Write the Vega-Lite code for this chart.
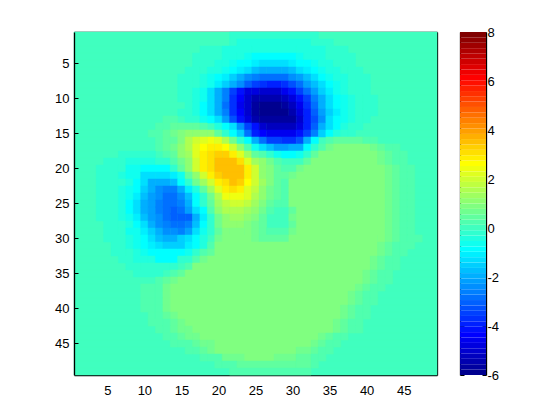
{"$schema":"https://vega.github.io/schema/vega-lite/v6.json","padding":{"left":54,"top":26,"right":0,"bottom":0},"background":"white","spacing":19,"config":{"view":{"stroke":null},"axis":{"labelFont":"Liberation Sans","labelFontSize":13,"labelColor":"black","tickColor":"black","domainColor":"black","tickSize":-4,"labelPadding":9,"title":null,"grid":false,"domainWidth":1.3,"tickWidth":1}},"hconcat":[{"width":363,"height":343,"layer":[{"data":{"values":[
{"x":0.5,"x2":49.5,"y":1,"v":0},{"x":0.5,"x2":49.5,"y":2,"v":0},{"x":0.5,"x2":49.5,"y":3,"v":0},{"x":0.5,"x2":49.5,"y":4,"v":0},{"x":0.5,"x2":49.5,"y":5,"v":0},{"x":0.5,"x2":49.5,"y":6,"v":0},{"x":0.5,"x2":49.5,"y":7,"v":0},{"x":0.5,"x2":49.5,"y":8,"v":0},{"x":0.5,"x2":49.5,"y":9,"v":0},{"x":0.5,"x2":49.5,"y":10,"v":0},{"x":0.5,"x2":49.5,"y":11,"v":0},{"x":0.5,"x2":49.5,"y":12,"v":0},{"x":0.5,"x2":49.5,"y":13,"v":0},{"x":0.5,"x2":49.5,"y":14,"v":0},{"x":0.5,"x2":49.5,"y":15,"v":0},{"x":0.5,"x2":49.5,"y":16,"v":0},{"x":0.5,"x2":49.5,"y":17,"v":0},{"x":0.5,"x2":49.5,"y":18,"v":0},{"x":0.5,"x2":49.5,"y":19,"v":0},{"x":0.5,"x2":49.5,"y":20,"v":0},{"x":0.5,"x2":49.5,"y":21,"v":0},{"x":0.5,"x2":49.5,"y":22,"v":0},{"x":0.5,"x2":49.5,"y":23,"v":0},{"x":0.5,"x2":49.5,"y":24,"v":0},{"x":0.5,"x2":49.5,"y":25,"v":0},{"x":0.5,"x2":49.5,"y":26,"v":0},{"x":0.5,"x2":49.5,"y":27,"v":0},{"x":0.5,"x2":49.5,"y":28,"v":0},{"x":0.5,"x2":49.5,"y":29,"v":0},{"x":0.5,"x2":49.5,"y":30,"v":0},{"x":0.5,"x2":49.5,"y":31,"v":0},{"x":0.5,"x2":49.5,"y":32,"v":0},{"x":0.5,"x2":49.5,"y":33,"v":0},{"x":0.5,"x2":49.5,"y":34,"v":0},{"x":0.5,"x2":49.5,"y":35,"v":0},{"x":0.5,"x2":49.5,"y":36,"v":0},{"x":0.5,"x2":49.5,"y":37,"v":0},{"x":0.5,"x2":49.5,"y":38,"v":0},{"x":0.5,"x2":49.5,"y":39,"v":0},{"x":0.5,"x2":49.5,"y":40,"v":0},{"x":0.5,"x2":49.5,"y":41,"v":0},{"x":0.5,"x2":49.5,"y":42,"v":0},{"x":0.5,"x2":49.5,"y":43,"v":0},{"x":0.5,"x2":49.5,"y":44,"v":0},{"x":0.5,"x2":49.5,"y":45,"v":0},{"x":0.5,"x2":49.5,"y":46,"v":0},{"x":0.5,"x2":49.5,"y":47,"v":0},{"x":0.5,"x2":49.5,"y":48,"v":0},{"x":0.5,"x2":49.5,"y":49,"v":0},
{"x":21.5,"x2":33.5,"y":1,"v":-0.2},
{"x":21.5,"x2":22.5,"y":2,"v":-0.2},{"x":22.5,"x2":32.5,"y":2,"v":-0.35},{"x":32.5,"x2":35.5,"y":2,"v":-0.2},
{"x":17.5,"x2":20.5,"y":3,"v":-0.15},{"x":20.5,"x2":24.5,"y":3,"v":-0.35},{"x":24.5,"x2":30.5,"y":3,"v":-0.5},{"x":30.5,"x2":34.5,"y":3,"v":-0.35},{"x":34.5,"x2":37.5,"y":3,"v":-0.15},
{"x":16.5,"x2":20.5,"y":4,"v":-0.15},{"x":20.5,"x2":22.5,"y":4,"v":-0.35},{"x":22.5,"x2":23.5,"y":4,"v":-0.5},{"x":23.5,"x2":24.5,"y":4,"v":-0.6},{"x":24.5,"x2":30.5,"y":4,"v":-0.8},{"x":30.5,"x2":31.5,"y":4,"v":-0.6},{"x":31.5,"x2":32.5,"y":4,"v":-0.5},{"x":32.5,"x2":34.5,"y":4,"v":-0.35},{"x":34.5,"x2":38.5,"y":4,"v":-0.15},
{"x":16.5,"x2":19.5,"y":5,"v":-0.2},{"x":19.5,"x2":20.5,"y":5,"v":-0.35},{"x":20.5,"x2":21.5,"y":5,"v":-0.5},{"x":21.5,"x2":22.5,"y":5,"v":-0.65},{"x":22.5,"x2":23.5,"y":5,"v":-0.8},{"x":23.5,"x2":24.5,"y":5,"v":-0.95},{"x":24.5,"x2":25.5,"y":5,"v":-1.1},{"x":25.5,"x2":29.5,"y":5,"v":-1.25},{"x":29.5,"x2":30.5,"y":5,"v":-1.1},{"x":30.5,"x2":31.5,"y":5,"v":-0.95},{"x":31.5,"x2":32.5,"y":5,"v":-0.8},{"x":32.5,"x2":33.5,"y":5,"v":-0.65},{"x":33.5,"x2":34.5,"y":5,"v":-0.5},{"x":34.5,"x2":35.5,"y":5,"v":-0.35},{"x":35.5,"x2":38.5,"y":5,"v":-0.2},
{"x":15.5,"x2":17.5,"y":6,"v":-0.15},{"x":17.5,"x2":18.5,"y":6,"v":-0.25},{"x":18.5,"x2":19.5,"y":6,"v":-0.35},{"x":19.5,"x2":20.5,"y":6,"v":-0.5},{"x":20.5,"x2":21.5,"y":6,"v":-0.7},{"x":21.5,"x2":22.5,"y":6,"v":-0.9},{"x":22.5,"x2":23.5,"y":6,"v":-1.15},{"x":23.5,"x2":24.5,"y":6,"v":-1.4},{"x":24.5,"x2":25.5,"y":6,"v":-1.65},{"x":25.5,"x2":26.5,"y":6,"v":-1.85},{"x":26.5,"x2":28.5,"y":6,"v":-2},{"x":28.5,"x2":29.5,"y":6,"v":-1.85},{"x":29.5,"x2":30.5,"y":6,"v":-1.65},{"x":30.5,"x2":31.5,"y":6,"v":-1.4},{"x":31.5,"x2":32.5,"y":6,"v":-1.15},{"x":32.5,"x2":33.5,"y":6,"v":-0.9},{"x":33.5,"x2":34.5,"y":6,"v":-0.7},{"x":34.5,"x2":35.5,"y":6,"v":-0.5},{"x":35.5,"x2":36.5,"y":6,"v":-0.35},{"x":36.5,"x2":37.5,"y":6,"v":-0.25},{"x":37.5,"x2":39.5,"y":6,"v":-0.15},
{"x":14.5,"x2":16.5,"y":7,"v":-0.12},{"x":16.5,"x2":17.5,"y":7,"v":-0.22},{"x":17.5,"x2":18.5,"y":7,"v":-0.33},{"x":18.5,"x2":19.5,"y":7,"v":-0.55},{"x":19.5,"x2":20.5,"y":7,"v":-0.8},{"x":20.5,"x2":21.5,"y":7,"v":-1.1},{"x":21.5,"x2":22.5,"y":7,"v":-1.45},{"x":22.5,"x2":23.5,"y":7,"v":-1.9},{"x":23.5,"x2":24.5,"y":7,"v":-2.3},{"x":24.5,"x2":25.5,"y":7,"v":-2.6},{"x":25.5,"x2":29.5,"y":7,"v":-2.9},{"x":29.5,"x2":30.5,"y":7,"v":-2.45},{"x":30.5,"x2":31.5,"y":7,"v":-2.1},{"x":31.5,"x2":32.5,"y":7,"v":-1.65},{"x":32.5,"x2":33.5,"y":7,"v":-1.25},{"x":33.5,"x2":34.5,"y":7,"v":-0.95},{"x":34.5,"x2":35.5,"y":7,"v":-0.7},{"x":35.5,"x2":36.5,"y":7,"v":-0.5},{"x":36.5,"x2":37.5,"y":7,"v":-0.33},{"x":37.5,"x2":38.5,"y":7,"v":-0.22},{"x":38.5,"x2":40.5,"y":7,"v":-0.12},
{"x":14.5,"x2":16.5,"y":8,"v":-0.14},{"x":16.5,"x2":17.5,"y":8,"v":-0.27},{"x":17.5,"x2":18.5,"y":8,"v":-0.5},{"x":18.5,"x2":19.5,"y":8,"v":-0.75},{"x":19.5,"x2":20.5,"y":8,"v":-1.05},{"x":20.5,"x2":21.5,"y":8,"v":-1.45},{"x":21.5,"x2":22.5,"y":8,"v":-1.95},{"x":22.5,"x2":23.5,"y":8,"v":-2.5},{"x":23.5,"x2":24.5,"y":8,"v":-3},{"x":24.5,"x2":25.5,"y":8,"v":-3.5},{"x":25.5,"x2":26.5,"y":8,"v":-3.8},{"x":26.5,"x2":28.5,"y":8,"v":-3.95},{"x":28.5,"x2":29.5,"y":8,"v":-3.65},{"x":29.5,"x2":30.5,"y":8,"v":-3.3},{"x":30.5,"x2":31.5,"y":8,"v":-2.75},{"x":31.5,"x2":32.5,"y":8,"v":-2.2},{"x":32.5,"x2":33.5,"y":8,"v":-1.7},{"x":33.5,"x2":34.5,"y":8,"v":-1.2},{"x":34.5,"x2":35.5,"y":8,"v":-0.9},{"x":35.5,"x2":36.5,"y":8,"v":-0.63},{"x":36.5,"x2":37.5,"y":8,"v":-0.4},{"x":37.5,"x2":38.5,"y":8,"v":-0.27},{"x":38.5,"x2":40.5,"y":8,"v":-0.14},
{"x":14.5,"x2":16.5,"y":9,"v":-0.16},{"x":16.5,"x2":17.5,"y":9,"v":-0.4},{"x":17.5,"x2":18.5,"y":9,"v":-0.75},{"x":18.5,"x2":19.5,"y":9,"v":-1.2},{"x":19.5,"x2":20.5,"y":9,"v":-1.9},{"x":20.5,"x2":21.5,"y":9,"v":-2.6},{"x":21.5,"x2":22.5,"y":9,"v":-3.5},{"x":22.5,"x2":23.5,"y":9,"v":-4.25},{"x":23.5,"x2":24.5,"y":9,"v":-4.7},{"x":24.5,"x2":25.5,"y":9,"v":-4.9},{"x":25.5,"x2":28.5,"y":9,"v":-5},{"x":28.5,"x2":29.5,"y":9,"v":-4.6},{"x":29.5,"x2":30.5,"y":9,"v":-4.1},{"x":30.5,"x2":31.5,"y":9,"v":-3.55},{"x":31.5,"x2":32.5,"y":9,"v":-2.85},{"x":32.5,"x2":33.5,"y":9,"v":-2.15},{"x":33.5,"x2":34.5,"y":9,"v":-1.55},{"x":34.5,"x2":35.5,"y":9,"v":-1.05},{"x":35.5,"x2":36.5,"y":9,"v":-0.7},{"x":36.5,"x2":37.5,"y":9,"v":-0.5},{"x":37.5,"x2":38.5,"y":9,"v":-0.3},{"x":38.5,"x2":40.5,"y":9,"v":-0.16},
{"x":14.5,"x2":16.5,"y":10,"v":-0.2},{"x":16.5,"x2":17.5,"y":10,"v":-0.4},{"x":17.5,"x2":18.5,"y":10,"v":-0.75},{"x":18.5,"x2":19.5,"y":10,"v":-1.2},{"x":19.5,"x2":20.5,"y":10,"v":-1.9},{"x":20.5,"x2":21.5,"y":10,"v":-2.7},{"x":21.5,"x2":22.5,"y":10,"v":-3.6},{"x":22.5,"x2":23.5,"y":10,"v":-4.4},{"x":23.5,"x2":24.5,"y":10,"v":-5},{"x":24.5,"x2":25.5,"y":10,"v":-5.4},{"x":25.5,"x2":28.5,"y":10,"v":-5.5},{"x":28.5,"x2":29.5,"y":10,"v":-5.25},{"x":29.5,"x2":30.5,"y":10,"v":-4.8},{"x":30.5,"x2":31.5,"y":10,"v":-4.1},{"x":31.5,"x2":32.5,"y":10,"v":-3.4},{"x":32.5,"x2":33.5,"y":10,"v":-2.6},{"x":33.5,"x2":34.5,"y":10,"v":-1.85},{"x":34.5,"x2":35.5,"y":10,"v":-1.25},{"x":35.5,"x2":36.5,"y":10,"v":-0.85},{"x":36.5,"x2":37.5,"y":10,"v":-0.55},{"x":37.5,"x2":38.5,"y":10,"v":-0.37},{"x":38.5,"x2":39.5,"y":10,"v":-0.23},{"x":39.5,"x2":41.5,"y":10,"v":-0.12},
{"x":15.5,"x2":16.5,"y":11,"v":-0.25},{"x":16.5,"x2":17.5,"y":11,"v":-0.4},{"x":17.5,"x2":18.5,"y":11,"v":-0.8},{"x":18.5,"x2":19.5,"y":11,"v":-1.25},{"x":19.5,"x2":20.5,"y":11,"v":-1.95},{"x":20.5,"x2":21.5,"y":11,"v":-2.8},{"x":21.5,"x2":22.5,"y":11,"v":-3.7},{"x":22.5,"x2":23.5,"y":11,"v":-4.5},{"x":23.5,"x2":24.5,"y":11,"v":-5.1},{"x":24.5,"x2":25.5,"y":11,"v":-5.6},{"x":25.5,"x2":28.5,"y":11,"v":-5.8},{"x":28.5,"x2":29.5,"y":11,"v":-5.6},{"x":29.5,"x2":30.5,"y":11,"v":-5.2},{"x":30.5,"x2":31.5,"y":11,"v":-4.5},{"x":31.5,"x2":32.5,"y":11,"v":-3.7},{"x":32.5,"x2":33.5,"y":11,"v":-2.85},{"x":33.5,"x2":34.5,"y":11,"v":-2},{"x":34.5,"x2":35.5,"y":11,"v":-1.4},{"x":35.5,"x2":36.5,"y":11,"v":-0.95},{"x":36.5,"x2":37.5,"y":11,"v":-0.6},{"x":37.5,"x2":38.5,"y":11,"v":-0.38},{"x":38.5,"x2":39.5,"y":11,"v":-0.25},{"x":39.5,"x2":41.5,"y":11,"v":-0.12},
{"x":14.5,"x2":16.5,"y":12,"v":-0.2},{"x":16.5,"x2":17.5,"y":12,"v":-0.4},{"x":17.5,"x2":18.5,"y":12,"v":-0.8},{"x":18.5,"x2":19.5,"y":12,"v":-1.25},{"x":19.5,"x2":20.5,"y":12,"v":-1.9},{"x":20.5,"x2":21.5,"y":12,"v":-2.7},{"x":21.5,"x2":22.5,"y":12,"v":-3.6},{"x":22.5,"x2":23.5,"y":12,"v":-4.4},{"x":23.5,"x2":24.5,"y":12,"v":-5.1},{"x":24.5,"x2":25.5,"y":12,"v":-5.6},{"x":25.5,"x2":29.5,"y":12,"v":-5.85},{"x":29.5,"x2":30.5,"y":12,"v":-5.4},{"x":30.5,"x2":31.5,"y":12,"v":-4.7},{"x":31.5,"x2":32.5,"y":12,"v":-3.9},{"x":32.5,"x2":33.5,"y":12,"v":-2.95},{"x":33.5,"x2":34.5,"y":12,"v":-2.1},{"x":34.5,"x2":35.5,"y":12,"v":-1.45},{"x":35.5,"x2":36.5,"y":12,"v":-1},{"x":36.5,"x2":37.5,"y":12,"v":-0.65},{"x":37.5,"x2":38.5,"y":12,"v":-0.4},{"x":38.5,"x2":39.5,"y":12,"v":-0.27},{"x":39.5,"x2":41.5,"y":12,"v":-0.13},
{"x":12.5,"x2":14.5,"y":13,"v":0.15},{"x":15.5,"x2":17.5,"y":13,"v":-0.25},{"x":17.5,"x2":18.5,"y":13,"v":-0.55},{"x":18.5,"x2":19.5,"y":13,"v":-0.85},{"x":19.5,"x2":20.5,"y":13,"v":-1.4},{"x":20.5,"x2":21.5,"y":13,"v":-2.1},{"x":21.5,"x2":22.5,"y":13,"v":-3.2},{"x":22.5,"x2":23.5,"y":13,"v":-4.25},{"x":23.5,"x2":24.5,"y":13,"v":-4.9},{"x":24.5,"x2":25.5,"y":13,"v":-5.5},{"x":25.5,"x2":30.5,"y":13,"v":-5.75},{"x":30.5,"x2":31.5,"y":13,"v":-5},{"x":31.5,"x2":32.5,"y":13,"v":-4},{"x":32.5,"x2":33.5,"y":13,"v":-3.3},{"x":33.5,"x2":34.5,"y":13,"v":-2.3},{"x":34.5,"x2":35.5,"y":13,"v":-1.3},{"x":35.5,"x2":36.5,"y":13,"v":-0.9},{"x":36.5,"x2":37.5,"y":13,"v":-0.55},{"x":37.5,"x2":38.5,"y":13,"v":-0.35},{"x":38.5,"x2":39.5,"y":13,"v":-0.2},{"x":39.5,"x2":40.5,"y":13,"v":-0.1},
{"x":11.5,"x2":12.5,"y":14,"v":0.15},{"x":12.5,"x2":13.5,"y":14,"v":0.25},{"x":13.5,"x2":14.5,"y":14,"v":0.35},{"x":14.5,"x2":16.5,"y":14,"v":0.5},{"x":16.5,"x2":17.5,"y":14,"v":0.4},{"x":17.5,"x2":18.5,"y":14,"v":0.2},{"x":19.5,"x2":20.5,"y":14,"v":-0.4},{"x":20.5,"x2":21.5,"y":14,"v":-0.8},{"x":21.5,"x2":22.5,"y":14,"v":-1.3},{"x":22.5,"x2":23.5,"y":14,"v":-2.5},{"x":23.5,"x2":24.5,"y":14,"v":-3.4},{"x":24.5,"x2":25.5,"y":14,"v":-4.2},{"x":25.5,"x2":26.5,"y":14,"v":-5},{"x":26.5,"x2":30.5,"y":14,"v":-5.3},{"x":30.5,"x2":31.5,"y":14,"v":-4.8},{"x":31.5,"x2":32.5,"y":14,"v":-4},{"x":32.5,"x2":33.5,"y":14,"v":-3},{"x":33.5,"x2":34.5,"y":14,"v":-2},{"x":34.5,"x2":35.5,"y":14,"v":-1.2},{"x":35.5,"x2":36.5,"y":14,"v":-0.8},{"x":36.5,"x2":37.5,"y":14,"v":-0.5},{"x":37.5,"x2":38.5,"y":14,"v":-0.3},{"x":38.5,"x2":39.5,"y":14,"v":-0.15},
{"x":10.5,"x2":12.5,"y":15,"v":0.2},{"x":12.5,"x2":13.5,"y":15,"v":0.4},{"x":13.5,"x2":14.5,"y":15,"v":0.6},{"x":14.5,"x2":15.5,"y":15,"v":0.8},{"x":15.5,"x2":16.5,"y":15,"v":1},{"x":16.5,"x2":18.5,"y":15,"v":1.2},{"x":18.5,"x2":19.5,"y":15,"v":1},{"x":19.5,"x2":20.5,"y":15,"v":0.5},{"x":20.5,"x2":21.5,"y":15,"v":-0.1},{"x":21.5,"x2":22.5,"y":15,"v":-0.8},{"x":22.5,"x2":23.5,"y":15,"v":-1.6},{"x":23.5,"x2":24.5,"y":15,"v":-2.9},{"x":24.5,"x2":25.5,"y":15,"v":-3.9},{"x":25.5,"x2":26.5,"y":15,"v":-4.3},{"x":26.5,"x2":30.5,"y":15,"v":-4.5},{"x":30.5,"x2":31.5,"y":15,"v":-4.2},{"x":31.5,"x2":32.5,"y":15,"v":-3.5},{"x":32.5,"x2":33.5,"y":15,"v":-2.6},{"x":33.5,"x2":34.5,"y":15,"v":-1.6},{"x":34.5,"x2":35.5,"y":15,"v":-0.9},{"x":35.5,"x2":36.5,"y":15,"v":-0.5},{"x":36.5,"x2":37.5,"y":15,"v":-0.3},{"x":37.5,"x2":38.5,"y":15,"v":-0.15},
{"x":11.5,"x2":12.5,"y":16,"v":0.2},{"x":12.5,"x2":13.5,"y":16,"v":0.35},{"x":13.5,"x2":14.5,"y":16,"v":0.5},{"x":14.5,"x2":15.5,"y":16,"v":0.9},{"x":15.5,"x2":16.5,"y":16,"v":1.5},{"x":16.5,"x2":17.5,"y":16,"v":1.9},{"x":17.5,"x2":18.5,"y":16,"v":2.3},{"x":18.5,"x2":19.5,"y":16,"v":2.4},{"x":19.5,"x2":20.5,"y":16,"v":2.1},{"x":20.5,"x2":21.5,"y":16,"v":1.5},{"x":21.5,"x2":22.5,"y":16,"v":0.75},{"x":22.5,"x2":23.5,"y":16,"v":-0.2},{"x":23.5,"x2":24.5,"y":16,"v":-0.8},{"x":24.5,"x2":25.5,"y":16,"v":-1.9},{"x":25.5,"x2":26.5,"y":16,"v":-2.9},{"x":26.5,"x2":28.5,"y":16,"v":-3.4},{"x":28.5,"x2":30.5,"y":16,"v":-3.6},{"x":30.5,"x2":31.5,"y":16,"v":-3.2},{"x":31.5,"x2":32.5,"y":16,"v":-1.9},{"x":32.5,"x2":33.5,"y":16,"v":-0.8},{"x":34.5,"x2":35.5,"y":16,"v":0.2},{"x":35.5,"x2":39.5,"y":16,"v":0.5},{"x":39.5,"x2":40.5,"y":16,"v":0.3},{"x":40.5,"x2":41.5,"y":16,"v":0.15},
{"x":11.5,"x2":12.5,"y":17,"v":0.2},{"x":12.5,"x2":13.5,"y":17,"v":0.4},{"x":13.5,"x2":14.5,"y":17,"v":0.7},{"x":14.5,"x2":15.5,"y":17,"v":1},{"x":15.5,"x2":16.5,"y":17,"v":1.5},{"x":16.5,"x2":17.5,"y":17,"v":2.1},{"x":17.5,"x2":18.5,"y":17,"v":2.6},{"x":18.5,"x2":19.5,"y":17,"v":2.8},{"x":19.5,"x2":20.5,"y":17,"v":2.9},{"x":20.5,"x2":21.5,"y":17,"v":2.6},{"x":21.5,"x2":22.5,"y":17,"v":1.9},{"x":22.5,"x2":23.5,"y":17,"v":1},{"x":23.5,"x2":24.5,"y":17,"v":0.3},{"x":24.5,"x2":25.5,"y":17,"v":-0.6},{"x":25.5,"x2":26.5,"y":17,"v":-1.2},{"x":26.5,"x2":27.5,"y":17,"v":-1.7},{"x":27.5,"x2":29.5,"y":17,"v":-2.1},{"x":29.5,"x2":31.5,"y":17,"v":-1.9},{"x":31.5,"x2":32.5,"y":17,"v":-0.8},{"x":32.5,"x2":33.5,"y":17,"v":-0.3},{"x":33.5,"x2":34.5,"y":17,"v":0.3},{"x":34.5,"x2":35.5,"y":17,"v":0.7},{"x":35.5,"x2":40.5,"y":17,"v":0.9},{"x":40.5,"x2":41.5,"y":17,"v":0.7},{"x":41.5,"x2":42.5,"y":17,"v":0.5},{"x":42.5,"x2":43.5,"y":17,"v":0.3},{"x":43.5,"x2":44.5,"y":17,"v":0.15},
{"x":6.5,"x2":11.5,"y":18,"v":-0.15},{"x":12.5,"x2":13.5,"y":18,"v":0.15},{"x":13.5,"x2":14.5,"y":18,"v":0.5},{"x":14.5,"x2":15.5,"y":18,"v":1},{"x":15.5,"x2":16.5,"y":18,"v":1.4},{"x":16.5,"x2":17.5,"y":18,"v":2.2},{"x":17.5,"x2":18.5,"y":18,"v":2.8},{"x":18.5,"x2":19.5,"y":18,"v":3.1},{"x":19.5,"x2":20.5,"y":18,"v":3.35},{"x":20.5,"x2":21.5,"y":18,"v":3.2},{"x":21.5,"x2":22.5,"y":18,"v":2.8},{"x":22.5,"x2":23.5,"y":18,"v":2.1},{"x":23.5,"x2":24.5,"y":18,"v":1.4},{"x":24.5,"x2":25.5,"y":18,"v":0.5},{"x":25.5,"x2":26.5,"y":18,"v":0.15},{"x":26.5,"x2":27.5,"y":18,"v":-0.3},{"x":27.5,"x2":28.5,"y":18,"v":-0.7},{"x":28.5,"x2":30.5,"y":18,"v":-0.9},{"x":30.5,"x2":31.5,"y":18,"v":-0.7},{"x":31.5,"x2":32.5,"y":18,"v":-0.1},{"x":32.5,"x2":33.5,"y":18,"v":0.4},{"x":33.5,"x2":41.5,"y":18,"v":0.9},{"x":41.5,"x2":42.5,"y":18,"v":0.7},{"x":42.5,"x2":43.5,"y":18,"v":0.5},{"x":43.5,"x2":44.5,"y":18,"v":0.3},{"x":44.5,"x2":45.5,"y":18,"v":0.15},
{"x":4.5,"x2":7.5,"y":19,"v":-0.2},{"x":7.5,"x2":11.5,"y":19,"v":-0.35},{"x":11.5,"x2":13.5,"y":19,"v":-0.2},{"x":13.5,"x2":14.5,"y":19,"v":0.15},{"x":14.5,"x2":15.5,"y":19,"v":0.6},{"x":15.5,"x2":16.5,"y":19,"v":1.2},{"x":16.5,"x2":17.5,"y":19,"v":2},{"x":17.5,"x2":18.5,"y":19,"v":2.8},{"x":18.5,"x2":19.5,"y":19,"v":3.1},{"x":19.5,"x2":22.5,"y":19,"v":3.55},{"x":22.5,"x2":23.5,"y":19,"v":3.1},{"x":23.5,"x2":24.5,"y":19,"v":2.3},{"x":24.5,"x2":25.5,"y":19,"v":1.4},{"x":25.5,"x2":26.5,"y":19,"v":1},{"x":26.5,"x2":27.5,"y":19,"v":0.6},{"x":27.5,"x2":28.5,"y":19,"v":0.3},{"x":31.5,"x2":32.5,"y":19,"v":0.5},{"x":32.5,"x2":41.5,"y":19,"v":0.9},{"x":41.5,"x2":42.5,"y":19,"v":0.7},{"x":42.5,"x2":43.5,"y":19,"v":0.5},{"x":43.5,"x2":44.5,"y":19,"v":0.3},{"x":44.5,"x2":45.5,"y":19,"v":0.15},
{"x":3.5,"x2":6.5,"y":20,"v":-0.2},{"x":6.5,"x2":7.5,"y":20,"v":-0.3},{"x":7.5,"x2":9.5,"y":20,"v":-0.55},{"x":9.5,"x2":13.5,"y":20,"v":-0.8},{"x":13.5,"x2":14.5,"y":20,"v":-0.2},{"x":14.5,"x2":15.5,"y":20,"v":0.5},{"x":15.5,"x2":16.5,"y":20,"v":1.2},{"x":16.5,"x2":17.5,"y":20,"v":2},{"x":17.5,"x2":18.5,"y":20,"v":2.8},{"x":18.5,"x2":19.5,"y":20,"v":3.1},{"x":19.5,"x2":23.5,"y":20,"v":3.55},{"x":23.5,"x2":24.5,"y":20,"v":2.8},{"x":24.5,"x2":25.5,"y":20,"v":1.9},{"x":25.5,"x2":26.5,"y":20,"v":1.2},{"x":26.5,"x2":27.5,"y":20,"v":0.8},{"x":27.5,"x2":28.5,"y":20,"v":0.4},{"x":28.5,"x2":30.5,"y":20,"v":0.2},{"x":30.5,"x2":31.5,"y":20,"v":0.7},{"x":31.5,"x2":42.5,"y":20,"v":0.9},{"x":42.5,"x2":43.5,"y":20,"v":0.7},{"x":43.5,"x2":44.5,"y":20,"v":0.5},{"x":44.5,"x2":45.5,"y":20,"v":0.3},{"x":45.5,"x2":46.5,"y":20,"v":0.15},
{"x":3.5,"x2":6.5,"y":21,"v":-0.15},{"x":6.5,"x2":7.5,"y":21,"v":-0.4},{"x":7.5,"x2":9.5,"y":21,"v":-0.7},{"x":9.5,"x2":11.5,"y":21,"v":-1.2},{"x":11.5,"x2":13.5,"y":21,"v":-1.4},{"x":13.5,"x2":14.5,"y":21,"v":-1.1},{"x":14.5,"x2":15.5,"y":21,"v":-0.6},{"x":15.5,"x2":16.5,"y":21,"v":0.5},{"x":16.5,"x2":17.5,"y":21,"v":1.2},{"x":17.5,"x2":18.5,"y":21,"v":1.9},{"x":18.5,"x2":19.5,"y":21,"v":2.8},{"x":19.5,"x2":20.5,"y":21,"v":3.3},{"x":20.5,"x2":23.5,"y":21,"v":3.55},{"x":23.5,"x2":24.5,"y":21,"v":2.8},{"x":24.5,"x2":25.5,"y":21,"v":2},{"x":25.5,"x2":26.5,"y":21,"v":1.2},{"x":26.5,"x2":27.5,"y":21,"v":0.8},{"x":27.5,"x2":29.5,"y":21,"v":0.35},{"x":29.5,"x2":30.5,"y":21,"v":0.7},{"x":30.5,"x2":42.5,"y":21,"v":0.9},{"x":42.5,"x2":43.5,"y":21,"v":0.7},{"x":43.5,"x2":44.5,"y":21,"v":0.5},{"x":44.5,"x2":45.5,"y":21,"v":0.3},{"x":45.5,"x2":46.5,"y":21,"v":0.15},
{"x":3.5,"x2":6.5,"y":22,"v":-0.15},{"x":6.5,"x2":7.5,"y":22,"v":-0.3},{"x":7.5,"x2":8.5,"y":22,"v":-0.5},{"x":8.5,"x2":9.5,"y":22,"v":-0.8},{"x":9.5,"x2":10.5,"y":22,"v":-1.4},{"x":10.5,"x2":11.5,"y":22,"v":-1.9},{"x":11.5,"x2":13.5,"y":22,"v":-2},{"x":13.5,"x2":14.5,"y":22,"v":-1.7},{"x":14.5,"x2":15.5,"y":22,"v":-0.8},{"x":15.5,"x2":16.5,"y":22,"v":-0.15},{"x":16.5,"x2":17.5,"y":22,"v":0.75},{"x":17.5,"x2":18.5,"y":22,"v":1.3},{"x":18.5,"x2":19.5,"y":22,"v":2},{"x":19.5,"x2":20.5,"y":22,"v":2.8},{"x":20.5,"x2":21.5,"y":22,"v":3.1},{"x":21.5,"x2":22.5,"y":22,"v":3.5},{"x":22.5,"x2":23.5,"y":22,"v":3.2},{"x":23.5,"x2":24.5,"y":22,"v":2.6},{"x":24.5,"x2":25.5,"y":22,"v":2},{"x":25.5,"x2":26.5,"y":22,"v":1.3},{"x":26.5,"x2":27.5,"y":22,"v":0.8},{"x":27.5,"x2":28.5,"y":22,"v":0.4},{"x":28.5,"x2":29.5,"y":22,"v":0.3},{"x":29.5,"x2":42.5,"y":22,"v":0.9},{"x":42.5,"x2":43.5,"y":22,"v":0.7},{"x":43.5,"x2":44.5,"y":22,"v":0.5},{"x":44.5,"x2":45.5,"y":22,"v":0.3},{"x":45.5,"x2":46.5,"y":22,"v":0.15},
{"x":3.5,"x2":6.5,"y":23,"v":-0.2},{"x":6.5,"x2":7.5,"y":23,"v":-0.35},{"x":7.5,"x2":8.5,"y":23,"v":-0.6},{"x":8.5,"x2":9.5,"y":23,"v":-0.9},{"x":9.5,"x2":10.5,"y":23,"v":-1.6},{"x":10.5,"x2":11.5,"y":23,"v":-2},{"x":11.5,"x2":12.5,"y":23,"v":-2.3},{"x":12.5,"x2":14.5,"y":23,"v":-2.6},{"x":14.5,"x2":15.5,"y":23,"v":-1.9},{"x":15.5,"x2":16.5,"y":23,"v":-1},{"x":16.5,"x2":17.5,"y":23,"v":-0.4},{"x":17.5,"x2":18.5,"y":23,"v":0.5},{"x":18.5,"x2":19.5,"y":23,"v":1.3},{"x":19.5,"x2":20.5,"y":23,"v":2.1},{"x":20.5,"x2":21.5,"y":23,"v":2.8},{"x":21.5,"x2":22.5,"y":23,"v":3.1},{"x":22.5,"x2":23.5,"y":23,"v":2.8},{"x":23.5,"x2":24.5,"y":23,"v":2.2},{"x":24.5,"x2":25.5,"y":23,"v":1.7},{"x":25.5,"x2":26.5,"y":23,"v":1.2},{"x":26.5,"x2":27.5,"y":23,"v":0.7},{"x":27.5,"x2":28.5,"y":23,"v":0.4},{"x":28.5,"x2":29.5,"y":23,"v":0.3},{"x":29.5,"x2":42.5,"y":23,"v":0.9},{"x":42.5,"x2":43.5,"y":23,"v":0.7},{"x":43.5,"x2":44.5,"y":23,"v":0.5},{"x":44.5,"x2":45.5,"y":23,"v":0.3},{"x":45.5,"x2":46.5,"y":23,"v":0.15},
{"x":3.5,"x2":6.5,"y":24,"v":-0.2},{"x":6.5,"x2":7.5,"y":24,"v":-0.35},{"x":7.5,"x2":8.5,"y":24,"v":-0.7},{"x":8.5,"x2":9.5,"y":24,"v":-1},{"x":9.5,"x2":10.5,"y":24,"v":-1.8},{"x":10.5,"x2":11.5,"y":24,"v":-2.1},{"x":11.5,"x2":12.5,"y":24,"v":-2.5},{"x":12.5,"x2":14.5,"y":24,"v":-2.8},{"x":14.5,"x2":15.5,"y":24,"v":-2.4},{"x":15.5,"x2":16.5,"y":24,"v":-1.8},{"x":16.5,"x2":17.5,"y":24,"v":-0.8},{"x":17.5,"x2":18.5,"y":24,"v":-0.2},{"x":18.5,"x2":19.5,"y":24,"v":0.7},{"x":19.5,"x2":20.5,"y":24,"v":1.6},{"x":20.5,"x2":21.5,"y":24,"v":2.4},{"x":21.5,"x2":23.5,"y":24,"v":2.5},{"x":23.5,"x2":24.5,"y":24,"v":2.1},{"x":24.5,"x2":25.5,"y":24,"v":1.6},{"x":25.5,"x2":26.5,"y":24,"v":1.1},{"x":26.5,"x2":27.5,"y":24,"v":0.7},{"x":27.5,"x2":28.5,"y":24,"v":0.4},{"x":28.5,"x2":29.5,"y":24,"v":0.3},{"x":29.5,"x2":42.5,"y":24,"v":0.9},{"x":42.5,"x2":43.5,"y":24,"v":0.7},{"x":43.5,"x2":44.5,"y":24,"v":0.5},{"x":44.5,"x2":45.5,"y":24,"v":0.3},{"x":45.5,"x2":46.5,"y":24,"v":0.15},
{"x":3.5,"x2":6.5,"y":25,"v":-0.2},{"x":6.5,"x2":7.5,"y":25,"v":-0.4},{"x":7.5,"x2":8.5,"y":25,"v":-0.8},{"x":8.5,"x2":9.5,"y":25,"v":-1.2},{"x":9.5,"x2":10.5,"y":25,"v":-1.9},{"x":10.5,"x2":11.5,"y":25,"v":-2.2},{"x":11.5,"x2":12.5,"y":25,"v":-2.6},{"x":12.5,"x2":14.5,"y":25,"v":-2.9},{"x":14.5,"x2":15.5,"y":25,"v":-2.7},{"x":15.5,"x2":16.5,"y":25,"v":-1.9},{"x":16.5,"x2":17.5,"y":25,"v":-0.9},{"x":17.5,"x2":18.5,"y":25,"v":-0.3},{"x":18.5,"x2":19.5,"y":25,"v":0.5},{"x":19.5,"x2":20.5,"y":25,"v":1.3},{"x":20.5,"x2":21.5,"y":25,"v":1.7},{"x":21.5,"x2":22.5,"y":25,"v":2},{"x":22.5,"x2":23.5,"y":25,"v":1.9},{"x":23.5,"x2":24.5,"y":25,"v":1.7},{"x":24.5,"x2":25.5,"y":25,"v":1.3},{"x":25.5,"x2":26.5,"y":25,"v":0.9},{"x":26.5,"x2":27.5,"y":25,"v":0.5},{"x":27.5,"x2":28.5,"y":25,"v":0.3},{"x":28.5,"x2":29.5,"y":25,"v":0.2},{"x":29.5,"x2":42.5,"y":25,"v":0.9},{"x":42.5,"x2":43.5,"y":25,"v":0.7},{"x":43.5,"x2":44.5,"y":25,"v":0.5},{"x":44.5,"x2":45.5,"y":25,"v":0.3},{"x":45.5,"x2":46.5,"y":25,"v":0.15},
{"x":3.5,"x2":6.5,"y":26,"v":-0.2},{"x":6.5,"x2":7.5,"y":26,"v":-0.4},{"x":7.5,"x2":8.5,"y":26,"v":-0.8},{"x":8.5,"x2":9.5,"y":26,"v":-1.2},{"x":9.5,"x2":10.5,"y":26,"v":-1.9},{"x":10.5,"x2":11.5,"y":26,"v":-2.2},{"x":11.5,"x2":12.5,"y":26,"v":-2.6},{"x":12.5,"x2":13.5,"y":26,"v":-2.8},{"x":13.5,"x2":14.5,"y":26,"v":-3},{"x":14.5,"x2":15.5,"y":26,"v":-2.9},{"x":15.5,"x2":16.5,"y":26,"v":-2.2},{"x":16.5,"x2":17.5,"y":26,"v":-1.2},{"x":17.5,"x2":18.5,"y":26,"v":-0.8},{"x":18.5,"x2":19.5,"y":26,"v":0.2},{"x":19.5,"x2":20.5,"y":26,"v":1},{"x":20.5,"x2":21.5,"y":26,"v":1.5},{"x":21.5,"x2":22.5,"y":26,"v":1.6},{"x":22.5,"x2":23.5,"y":26,"v":1.5},{"x":23.5,"x2":24.5,"y":26,"v":1.4},{"x":24.5,"x2":25.5,"y":26,"v":1},{"x":25.5,"x2":26.5,"y":26,"v":0.6},{"x":26.5,"x2":27.5,"y":26,"v":0.2},{"x":29.5,"x2":30.5,"y":26,"v":0.5},{"x":30.5,"x2":42.5,"y":26,"v":0.9},{"x":42.5,"x2":43.5,"y":26,"v":0.7},{"x":43.5,"x2":44.5,"y":26,"v":0.5},{"x":44.5,"x2":45.5,"y":26,"v":0.3},{"x":45.5,"x2":46.5,"y":26,"v":0.15},
{"x":3.5,"x2":6.5,"y":27,"v":-0.2},{"x":6.5,"x2":7.5,"y":27,"v":-0.35},{"x":7.5,"x2":8.5,"y":27,"v":-0.7},{"x":8.5,"x2":9.5,"y":27,"v":-1.1},{"x":9.5,"x2":10.5,"y":27,"v":-1.7},{"x":10.5,"x2":11.5,"y":27,"v":-2.1},{"x":11.5,"x2":12.5,"y":27,"v":-2.5},{"x":12.5,"x2":13.5,"y":27,"v":-2.8},{"x":13.5,"x2":14.5,"y":27,"v":-3},{"x":14.5,"x2":15.5,"y":27,"v":-3.1},{"x":15.5,"x2":16.5,"y":27,"v":-3},{"x":16.5,"x2":17.5,"y":27,"v":-2},{"x":17.5,"x2":18.5,"y":27,"v":-1},{"x":18.5,"x2":19.5,"y":27,"v":-0.3},{"x":19.5,"x2":20.5,"y":27,"v":0.6},{"x":20.5,"x2":21.5,"y":27,"v":1.2},{"x":21.5,"x2":23.5,"y":27,"v":1.3},{"x":23.5,"x2":24.5,"y":27,"v":1.2},{"x":24.5,"x2":25.5,"y":27,"v":0.9},{"x":25.5,"x2":26.5,"y":27,"v":0.5},{"x":29.5,"x2":30.5,"y":27,"v":0.7},{"x":30.5,"x2":42.5,"y":27,"v":0.9},{"x":42.5,"x2":43.5,"y":27,"v":0.7},{"x":43.5,"x2":44.5,"y":27,"v":0.5},{"x":44.5,"x2":45.5,"y":27,"v":0.3},{"x":45.5,"x2":46.5,"y":27,"v":0.15},
{"x":4.5,"x2":6.5,"y":28,"v":-0.2},{"x":6.5,"x2":7.5,"y":28,"v":-0.3},{"x":7.5,"x2":8.5,"y":28,"v":-0.5},{"x":8.5,"x2":9.5,"y":28,"v":-0.9},{"x":9.5,"x2":10.5,"y":28,"v":-1.3},{"x":10.5,"x2":11.5,"y":28,"v":-1.9},{"x":11.5,"x2":12.5,"y":28,"v":-2.3},{"x":12.5,"x2":13.5,"y":28,"v":-2.7},{"x":13.5,"x2":14.5,"y":28,"v":-2.8},{"x":14.5,"x2":15.5,"y":28,"v":-2.9},{"x":15.5,"x2":16.5,"y":28,"v":-2.6},{"x":16.5,"x2":17.5,"y":28,"v":-1.7},{"x":17.5,"x2":18.5,"y":28,"v":-0.8},{"x":18.5,"x2":19.5,"y":28,"v":-0.2},{"x":19.5,"x2":20.5,"y":28,"v":0.6},{"x":20.5,"x2":22.5,"y":28,"v":1},{"x":22.5,"x2":23.5,"y":28,"v":1.1},{"x":23.5,"x2":24.5,"y":28,"v":0.9},{"x":24.5,"x2":25.5,"y":28,"v":0.7},{"x":25.5,"x2":26.5,"y":28,"v":0.4},{"x":29.5,"x2":30.5,"y":28,"v":0.5},{"x":30.5,"x2":42.5,"y":28,"v":0.9},{"x":42.5,"x2":43.5,"y":28,"v":0.7},{"x":43.5,"x2":44.5,"y":28,"v":0.5},{"x":44.5,"x2":45.5,"y":28,"v":0.3},{"x":45.5,"x2":46.5,"y":28,"v":0.15},
{"x":4.5,"x2":6.5,"y":29,"v":-0.15},{"x":6.5,"x2":7.5,"y":29,"v":-0.25},{"x":7.5,"x2":9.5,"y":29,"v":-0.6},{"x":9.5,"x2":10.5,"y":29,"v":-1},{"x":10.5,"x2":11.5,"y":29,"v":-1.5},{"x":11.5,"x2":12.5,"y":29,"v":-2},{"x":12.5,"x2":13.5,"y":29,"v":-2.3},{"x":13.5,"x2":14.5,"y":29,"v":-2.5},{"x":14.5,"x2":15.5,"y":29,"v":-2.6},{"x":15.5,"x2":16.5,"y":29,"v":-2.2},{"x":16.5,"x2":17.5,"y":29,"v":-1.4},{"x":17.5,"x2":18.5,"y":29,"v":-0.7},{"x":18.5,"x2":19.5,"y":29,"v":-0.15},{"x":19.5,"x2":20.5,"y":29,"v":0.5},{"x":20.5,"x2":21.5,"y":29,"v":0.85},{"x":21.5,"x2":23.5,"y":29,"v":0.95},{"x":23.5,"x2":24.5,"y":29,"v":0.85},{"x":24.5,"x2":25.5,"y":29,"v":0.6},{"x":25.5,"x2":26.5,"y":29,"v":0.35},{"x":26.5,"x2":29.5,"y":29,"v":0.2},{"x":29.5,"x2":30.5,"y":29,"v":0.7},{"x":30.5,"x2":42.5,"y":29,"v":0.9},{"x":42.5,"x2":43.5,"y":29,"v":0.7},{"x":43.5,"x2":44.5,"y":29,"v":0.5},{"x":44.5,"x2":45.5,"y":29,"v":0.3},{"x":45.5,"x2":46.5,"y":29,"v":0.15},
{"x":4.5,"x2":7.5,"y":30,"v":-0.2},{"x":7.5,"x2":8.5,"y":30,"v":-0.4},{"x":8.5,"x2":9.5,"y":30,"v":-0.6},{"x":9.5,"x2":10.5,"y":30,"v":-0.85},{"x":10.5,"x2":11.5,"y":30,"v":-1.2},{"x":11.5,"x2":12.5,"y":30,"v":-1.8},{"x":12.5,"x2":14.5,"y":30,"v":-1.9},{"x":14.5,"x2":15.5,"y":30,"v":-1.6},{"x":15.5,"x2":16.5,"y":30,"v":-1.2},{"x":16.5,"x2":17.5,"y":30,"v":-0.8},{"x":17.5,"x2":18.5,"y":30,"v":-0.4},{"x":19.5,"x2":20.5,"y":30,"v":0.6},{"x":20.5,"x2":24.5,"y":30,"v":0.85},{"x":24.5,"x2":25.5,"y":30,"v":0.7},{"x":25.5,"x2":29.5,"y":30,"v":0.4},{"x":29.5,"x2":41.5,"y":30,"v":0.9},{"x":41.5,"x2":42.5,"y":30,"v":0.8},{"x":42.5,"x2":43.5,"y":30,"v":0.6},{"x":43.5,"x2":44.5,"y":30,"v":0.4},{"x":44.5,"x2":45.5,"y":30,"v":0.3},{"x":45.5,"x2":47.5,"y":30,"v":0.15},
{"x":5.5,"x2":7.5,"y":31,"v":-0.2},{"x":7.5,"x2":8.5,"y":31,"v":-0.35},{"x":8.5,"x2":9.5,"y":31,"v":-0.6},{"x":9.5,"x2":10.5,"y":31,"v":-0.8},{"x":10.5,"x2":11.5,"y":31,"v":-1},{"x":11.5,"x2":12.5,"y":31,"v":-1.2},{"x":12.5,"x2":15.5,"y":31,"v":-1.5},{"x":15.5,"x2":16.5,"y":31,"v":-1.1},{"x":16.5,"x2":17.5,"y":31,"v":-0.8},{"x":17.5,"x2":18.5,"y":31,"v":-0.35},{"x":18.5,"x2":19.5,"y":31,"v":0.2},{"x":19.5,"x2":41.5,"y":31,"v":0.9},{"x":41.5,"x2":42.5,"y":31,"v":0.7},{"x":42.5,"x2":43.5,"y":31,"v":0.5},{"x":43.5,"x2":44.5,"y":31,"v":0.3},{"x":44.5,"x2":46.5,"y":31,"v":0.15},
{"x":5.5,"x2":7.5,"y":32,"v":-0.15},{"x":7.5,"x2":8.5,"y":32,"v":-0.3},{"x":8.5,"x2":9.5,"y":32,"v":-0.5},{"x":9.5,"x2":10.5,"y":32,"v":-0.7},{"x":10.5,"x2":11.5,"y":32,"v":-0.8},{"x":11.5,"x2":14.5,"y":32,"v":-0.9},{"x":14.5,"x2":15.5,"y":32,"v":-0.8},{"x":15.5,"x2":16.5,"y":32,"v":-0.6},{"x":16.5,"x2":17.5,"y":32,"v":-0.3},{"x":17.5,"x2":18.5,"y":32,"v":0.15},{"x":18.5,"x2":19.5,"y":32,"v":0.5},{"x":19.5,"x2":41.5,"y":32,"v":0.9},{"x":41.5,"x2":42.5,"y":32,"v":0.7},{"x":42.5,"x2":43.5,"y":32,"v":0.5},{"x":43.5,"x2":44.5,"y":32,"v":0.3},{"x":44.5,"x2":45.5,"y":32,"v":0.15},
{"x":6.5,"x2":8.5,"y":33,"v":-0.15},{"x":8.5,"x2":10.5,"y":33,"v":-0.35},{"x":10.5,"x2":11.5,"y":33,"v":-0.5},{"x":11.5,"x2":14.5,"y":33,"v":-0.8},{"x":14.5,"x2":15.5,"y":33,"v":-0.3},{"x":15.5,"x2":16.5,"y":33,"v":-0.15},{"x":16.5,"x2":17.5,"y":33,"v":0.15},{"x":17.5,"x2":18.5,"y":33,"v":0.7},{"x":18.5,"x2":40.5,"y":33,"v":0.9},{"x":40.5,"x2":41.5,"y":33,"v":0.7},{"x":41.5,"x2":42.5,"y":33,"v":0.5},{"x":42.5,"x2":43.5,"y":33,"v":0.3},{"x":43.5,"x2":44.5,"y":33,"v":0.15},
{"x":7.5,"x2":9.5,"y":34,"v":-0.15},{"x":9.5,"x2":13.5,"y":34,"v":-0.3},{"x":13.5,"x2":14.5,"y":34,"v":-0.2},{"x":15.5,"x2":16.5,"y":34,"v":0.25},{"x":16.5,"x2":40.5,"y":34,"v":0.9},{"x":40.5,"x2":41.5,"y":34,"v":0.7},{"x":41.5,"x2":42.5,"y":34,"v":0.5},{"x":42.5,"x2":43.5,"y":34,"v":0.3},{"x":43.5,"x2":44.5,"y":34,"v":0.15},
{"x":8.5,"x2":12.5,"y":35,"v":-0.15},{"x":13.5,"x2":14.5,"y":35,"v":0.15},{"x":14.5,"x2":15.5,"y":35,"v":0.4},{"x":15.5,"x2":39.5,"y":35,"v":0.9},{"x":39.5,"x2":40.5,"y":35,"v":0.7},{"x":40.5,"x2":41.5,"y":35,"v":0.5},{"x":41.5,"x2":42.5,"y":35,"v":0.3},{"x":42.5,"x2":43.5,"y":35,"v":0.15},
{"x":11.5,"x2":12.5,"y":36,"v":0.15},{"x":12.5,"x2":13.5,"y":36,"v":0.45},{"x":13.5,"x2":14.5,"y":36,"v":0.7},{"x":14.5,"x2":39.5,"y":36,"v":0.9},{"x":39.5,"x2":40.5,"y":36,"v":0.7},{"x":40.5,"x2":41.5,"y":36,"v":0.5},{"x":41.5,"x2":42.5,"y":36,"v":0.3},{"x":42.5,"x2":43.5,"y":36,"v":0.15},
{"x":9.5,"x2":11.5,"y":37,"v":0.15},{"x":11.5,"x2":12.5,"y":37,"v":0.3},{"x":12.5,"x2":13.5,"y":37,"v":0.6},{"x":13.5,"x2":38.5,"y":37,"v":0.9},{"x":38.5,"x2":39.5,"y":37,"v":0.7},{"x":39.5,"x2":40.5,"y":37,"v":0.5},{"x":40.5,"x2":41.5,"y":37,"v":0.3},{"x":41.5,"x2":42.5,"y":37,"v":0.15},
{"x":9.5,"x2":11.5,"y":38,"v":0.15},{"x":11.5,"x2":12.5,"y":38,"v":0.3},{"x":12.5,"x2":13.5,"y":38,"v":0.6},{"x":13.5,"x2":37.5,"y":38,"v":0.9},{"x":37.5,"x2":38.5,"y":38,"v":0.7},{"x":38.5,"x2":39.5,"y":38,"v":0.5},{"x":39.5,"x2":40.5,"y":38,"v":0.3},{"x":40.5,"x2":41.5,"y":38,"v":0.15},
{"x":9.5,"x2":11.5,"y":39,"v":0.15},{"x":11.5,"x2":12.5,"y":39,"v":0.3},{"x":12.5,"x2":13.5,"y":39,"v":0.6},{"x":13.5,"x2":37.5,"y":39,"v":0.9},{"x":37.5,"x2":38.5,"y":39,"v":0.7},{"x":38.5,"x2":39.5,"y":39,"v":0.5},{"x":39.5,"x2":40.5,"y":39,"v":0.3},{"x":40.5,"x2":41.5,"y":39,"v":0.15},
{"x":9.5,"x2":11.5,"y":40,"v":0.15},{"x":11.5,"x2":12.5,"y":40,"v":0.3},{"x":12.5,"x2":13.5,"y":40,"v":0.6},{"x":13.5,"x2":36.5,"y":40,"v":0.9},{"x":36.5,"x2":37.5,"y":40,"v":0.7},{"x":37.5,"x2":38.5,"y":40,"v":0.5},{"x":38.5,"x2":39.5,"y":40,"v":0.3},{"x":39.5,"x2":40.5,"y":40,"v":0.15},
{"x":10.5,"x2":11.5,"y":41,"v":0.15},{"x":11.5,"x2":12.5,"y":41,"v":0.3},{"x":12.5,"x2":13.5,"y":41,"v":0.45},{"x":13.5,"x2":14.5,"y":41,"v":0.7},{"x":14.5,"x2":36.5,"y":41,"v":0.9},{"x":36.5,"x2":37.5,"y":41,"v":0.7},{"x":37.5,"x2":38.5,"y":41,"v":0.5},{"x":38.5,"x2":39.5,"y":41,"v":0.3},{"x":39.5,"x2":40.5,"y":41,"v":0.15},
{"x":10.5,"x2":12.5,"y":42,"v":0.15},{"x":12.5,"x2":13.5,"y":42,"v":0.3},{"x":13.5,"x2":14.5,"y":42,"v":0.45},{"x":14.5,"x2":15.5,"y":42,"v":0.7},{"x":15.5,"x2":35.5,"y":42,"v":0.9},{"x":35.5,"x2":36.5,"y":42,"v":0.7},{"x":36.5,"x2":37.5,"y":42,"v":0.5},{"x":37.5,"x2":38.5,"y":42,"v":0.3},{"x":38.5,"x2":39.5,"y":42,"v":0.15},
{"x":11.5,"x2":12.5,"y":43,"v":0.15},{"x":12.5,"x2":13.5,"y":43,"v":0.3},{"x":13.5,"x2":14.5,"y":43,"v":0.45},{"x":14.5,"x2":15.5,"y":43,"v":0.6},{"x":15.5,"x2":16.5,"y":43,"v":0.7},{"x":16.5,"x2":35.5,"y":43,"v":0.9},{"x":35.5,"x2":36.5,"y":43,"v":0.7},{"x":36.5,"x2":37.5,"y":43,"v":0.5},{"x":37.5,"x2":38.5,"y":43,"v":0.3},{"x":38.5,"x2":39.5,"y":43,"v":0.15},
{"x":12.5,"x2":13.5,"y":44,"v":0.15},{"x":13.5,"x2":14.5,"y":44,"v":0.3},{"x":14.5,"x2":15.5,"y":44,"v":0.45},{"x":15.5,"x2":16.5,"y":44,"v":0.6},{"x":16.5,"x2":17.5,"y":44,"v":0.7},{"x":17.5,"x2":33.5,"y":44,"v":0.9},{"x":33.5,"x2":34.5,"y":44,"v":0.7},{"x":34.5,"x2":35.5,"y":44,"v":0.5},{"x":35.5,"x2":36.5,"y":44,"v":0.3},{"x":36.5,"x2":37.5,"y":44,"v":0.15},
{"x":13.5,"x2":14.5,"y":45,"v":0.15},{"x":14.5,"x2":16.5,"y":45,"v":0.3},{"x":16.5,"x2":17.5,"y":45,"v":0.45},{"x":17.5,"x2":18.5,"y":45,"v":0.6},{"x":18.5,"x2":19.5,"y":45,"v":0.75},{"x":19.5,"x2":32.5,"y":45,"v":0.9},{"x":32.5,"x2":33.5,"y":45,"v":0.7},{"x":33.5,"x2":34.5,"y":45,"v":0.5},{"x":34.5,"x2":35.5,"y":45,"v":0.3},{"x":35.5,"x2":36.5,"y":45,"v":0.15},
{"x":15.5,"x2":16.5,"y":46,"v":0.15},{"x":16.5,"x2":17.5,"y":46,"v":0.3},{"x":17.5,"x2":18.5,"y":46,"v":0.45},{"x":18.5,"x2":19.5,"y":46,"v":0.6},{"x":19.5,"x2":30.5,"y":46,"v":0.9},{"x":30.5,"x2":32.5,"y":46,"v":0.7},{"x":32.5,"x2":33.5,"y":46,"v":0.5},{"x":33.5,"x2":34.5,"y":46,"v":0.3},{"x":34.5,"x2":35.5,"y":46,"v":0.15},
{"x":17.5,"x2":18.5,"y":47,"v":0.15},{"x":18.5,"x2":20.5,"y":47,"v":0.3},{"x":20.5,"x2":23.5,"y":47,"v":0.6},{"x":23.5,"x2":27.5,"y":47,"v":0.85},{"x":27.5,"x2":30.5,"y":47,"v":0.7},{"x":30.5,"x2":32.5,"y":47,"v":0.5},{"x":32.5,"x2":33.5,"y":47,"v":0.3},{"x":33.5,"x2":34.5,"y":47,"v":0.15},
{"x":19.5,"x2":20.5,"y":48,"v":0.15},{"x":20.5,"x2":22.5,"y":48,"v":0.3},{"x":22.5,"x2":30.5,"y":48,"v":0.5},{"x":30.5,"x2":32.5,"y":48,"v":0.35},{"x":32.5,"x2":33.5,"y":48,"v":0.15},
{"x":21.5,"x2":32.5,"y":49,"v":0.2}
]},"mark":{"type":"rect","strokeWidth":0.5},"encoding":{"x":{"field":"x","type":"quantitative","scale":{"domain":[0.5,49.5],"nice":false,"zero":false},"axis":{"values":[5,10,15,20,25,30,35,40,45],"orient":"bottom","labelPadding":13}},"x2":{"field":"x2"},"y":{"field":"y","type":"ordinal","scale":{"domain":[1,2,3,4,5,6,7,8,9,10,11,12,13,14,15,16,17,18,19,20,21,22,23,24,25,26,27,28,29,30,31,32,33,34,35,36,37,38,39,40,41,42,43,44,45,46,47,48,49],"paddingInner":0,"paddingOuter":0},"axis":{"values":[5,10,15,20,25,30,35,40,45],"orient":"left","labelAngle":0}},"stroke":{"field":"v","type":"quantitative","legend":null,"scale":{"type":"quantize","domain":[-6,8],"range":["#00008F","#00009F","#0000AF","#0000BF","#0000CF","#0000DF","#0000EF","#0000FF","#0010FF","#0020FF","#0030FF","#0040FF","#0050FF","#0060FF","#0070FF","#0080FF","#008FFF","#009FFF","#00AFFF","#00BFFF","#00CFFF","#00DFFF","#00EFFF","#00FFFF","#10FFEF","#20FFDF","#30FFCF","#40FFBF","#50FFAF","#60FF9F","#70FF8F","#80FF80","#8FFF70","#9FFF60","#AFFF50","#BFFF40","#CFFF30","#DFFF20","#EFFF10","#FFFF00","#FFEF00","#FFDF00","#FFCF00","#FFBF00","#FFAF00","#FF9F00","#FF8F00","#FF8000","#FF7000","#FF6000","#FF5000","#FF4000","#FF3000","#FF2000","#FF1000","#FF0000","#EF0000","#DF0000","#CF0000","#BF0000","#AF0000","#9F0000","#8F0000","#800000"]}},"color":{"field":"v","type":"quantitative","legend":null,"scale":{"type":"quantize","domain":[-6,8],"range":["#00008F","#00009F","#0000AF","#0000BF","#0000CF","#0000DF","#0000EF","#0000FF","#0010FF","#0020FF","#0030FF","#0040FF","#0050FF","#0060FF","#0070FF","#0080FF","#008FFF","#009FFF","#00AFFF","#00BFFF","#00CFFF","#00DFFF","#00EFFF","#00FFFF","#10FFEF","#20FFDF","#30FFCF","#40FFBF","#50FFAF","#60FF9F","#70FF8F","#80FF80","#8FFF70","#9FFF60","#AFFF50","#BFFF40","#CFFF30","#DFFF20","#EFFF10","#FFFF00","#FFEF00","#FFDF00","#FFCF00","#FFBF00","#FFAF00","#FF9F00","#FF8F00","#FF8000","#FF7000","#FF6000","#FF5000","#FF4000","#FF3000","#FF2000","#FF1000","#FF0000","#EF0000","#DF0000","#CF0000","#BF0000","#AF0000","#9F0000","#8F0000","#800000"]}}}},{"data":{"values":[{"x":1,"y":1}]},"mark":{"type":"point","opacity":0},"encoding":{"x":{"field":"x","type":"quantitative","scale":{"domain":[0.5,49.5],"nice":false,"zero":false},"axis":{"values":[5,10,15,20,25,30,35,40,45],"orient":"top","labels":false}},"y":{"field":"y","type":"ordinal","axis":{"values":[5,10,15,20,25,30,35,40,45],"orient":"right","labels":false}}}}],"resolve":{"axis":{"x":"independent","y":"independent"}}},{"width":26,"height":343,"layer":[{"data":{"values":[{"lo":-6,"hi":-5.78,"v":-5.89},{"lo":-5.78,"hi":-5.56,"v":-5.67},{"lo":-5.56,"hi":-5.34,"v":-5.45},{"lo":-5.34,"hi":-5.13,"v":-5.23},{"lo":-5.13,"hi":-4.91,"v":-5.02},{"lo":-4.91,"hi":-4.69,"v":-4.8},{"lo":-4.69,"hi":-4.47,"v":-4.58},{"lo":-4.47,"hi":-4.25,"v":-4.36},{"lo":-4.25,"hi":-4.03,"v":-4.14},{"lo":-4.03,"hi":-3.81,"v":-3.92},{"lo":-3.81,"hi":-3.59,"v":-3.7},{"lo":-3.59,"hi":-3.38,"v":-3.48},{"lo":-3.38,"hi":-3.16,"v":-3.27},{"lo":-3.16,"hi":-2.94,"v":-3.05},{"lo":-2.94,"hi":-2.72,"v":-2.83},{"lo":-2.72,"hi":-2.5,"v":-2.61},{"lo":-2.5,"hi":-2.28,"v":-2.39},{"lo":-2.28,"hi":-2.06,"v":-2.17},{"lo":-2.06,"hi":-1.84,"v":-1.95},{"lo":-1.84,"hi":-1.63,"v":-1.73},{"lo":-1.63,"hi":-1.41,"v":-1.52},{"lo":-1.41,"hi":-1.19,"v":-1.3},{"lo":-1.19,"hi":-0.97,"v":-1.08},{"lo":-0.97,"hi":-0.75,"v":-0.86},{"lo":-0.75,"hi":-0.53,"v":-0.64},{"lo":-0.53,"hi":-0.31,"v":-0.42},{"lo":-0.31,"hi":-0.09,"v":-0.2},{"lo":-0.09,"hi":0.13,"v":0.02},{"lo":0.13,"hi":0.34,"v":0.23},{"lo":0.34,"hi":0.56,"v":0.45},{"lo":0.56,"hi":0.78,"v":0.67},{"lo":0.78,"hi":1,"v":0.89},{"lo":1,"hi":1.22,"v":1.11},{"lo":1.22,"hi":1.44,"v":1.33},{"lo":1.44,"hi":1.66,"v":1.55},{"lo":1.66,"hi":1.88,"v":1.77},{"lo":1.88,"hi":2.09,"v":1.98},{"lo":2.09,"hi":2.31,"v":2.2},{"lo":2.31,"hi":2.53,"v":2.42},{"lo":2.53,"hi":2.75,"v":2.64},{"lo":2.75,"hi":2.97,"v":2.86},{"lo":2.97,"hi":3.19,"v":3.08},{"lo":3.19,"hi":3.41,"v":3.3},{"lo":3.41,"hi":3.63,"v":3.52},{"lo":3.63,"hi":3.84,"v":3.73},{"lo":3.84,"hi":4.06,"v":3.95},{"lo":4.06,"hi":4.28,"v":4.17},{"lo":4.28,"hi":4.5,"v":4.39},{"lo":4.5,"hi":4.72,"v":4.61},{"lo":4.72,"hi":4.94,"v":4.83},{"lo":4.94,"hi":5.16,"v":5.05},{"lo":5.16,"hi":5.38,"v":5.27},{"lo":5.38,"hi":5.59,"v":5.48},{"lo":5.59,"hi":5.81,"v":5.7},{"lo":5.81,"hi":6.03,"v":5.92},{"lo":6.03,"hi":6.25,"v":6.14},{"lo":6.25,"hi":6.47,"v":6.36},{"lo":6.47,"hi":6.69,"v":6.58},{"lo":6.69,"hi":6.91,"v":6.8},{"lo":6.91,"hi":7.13,"v":7.02},{"lo":7.13,"hi":7.34,"v":7.23},{"lo":7.34,"hi":7.56,"v":7.45},{"lo":7.56,"hi":7.78,"v":7.67},{"lo":7.78,"hi":8,"v":7.89}]},"mark":"rect","encoding":{"y":{"field":"lo","type":"quantitative","scale":{"domain":[-6,8],"nice":false,"zero":false},"axis":{"values":[-6,-4,-2,0,2,4,6,8],"orient":"right","labelPadding":5,"labelExpr":"''+datum.value"}},"y2":{"field":"hi"},"x":{"datum":0,"type":"quantitative","axis":null,"scale":{"domain":[0,1]}},"x2":{"datum":1},"color":{"field":"v","type":"quantitative","legend":null,"scale":{"type":"quantize","domain":[-6,8],"range":["#00008F","#00009F","#0000AF","#0000BF","#0000CF","#0000DF","#0000EF","#0000FF","#0010FF","#0020FF","#0030FF","#0040FF","#0050FF","#0060FF","#0070FF","#0080FF","#008FFF","#009FFF","#00AFFF","#00BFFF","#00CFFF","#00DFFF","#00EFFF","#00FFFF","#10FFEF","#20FFDF","#30FFCF","#40FFBF","#50FFAF","#60FF9F","#70FF8F","#80FF80","#8FFF70","#9FFF60","#AFFF50","#BFFF40","#CFFF30","#DFFF20","#EFFF10","#FFFF00","#FFEF00","#FFDF00","#FFCF00","#FFBF00","#FFAF00","#FF9F00","#FF8F00","#FF8000","#FF7000","#FF6000","#FF5000","#FF4000","#FF3000","#FF2000","#FF1000","#FF0000","#EF0000","#DF0000","#CF0000","#BF0000","#AF0000","#9F0000","#8F0000","#800000"]}}}},{"data":{"values":[{"lo":-6}]},"mark":{"type":"point","opacity":0},"encoding":{"x":{"datum":0,"type":"quantitative","axis":null,"scale":{"domain":[0,1]}},"y":{"field":"lo","type":"quantitative","scale":{"domain":[-6,8],"nice":false,"zero":false},"axis":{"values":[-6,-4,-2,0,2,4,6,8],"orient":"left","labels":false}}}}],"resolve":{"axis":{"y":"independent"}}}]}
